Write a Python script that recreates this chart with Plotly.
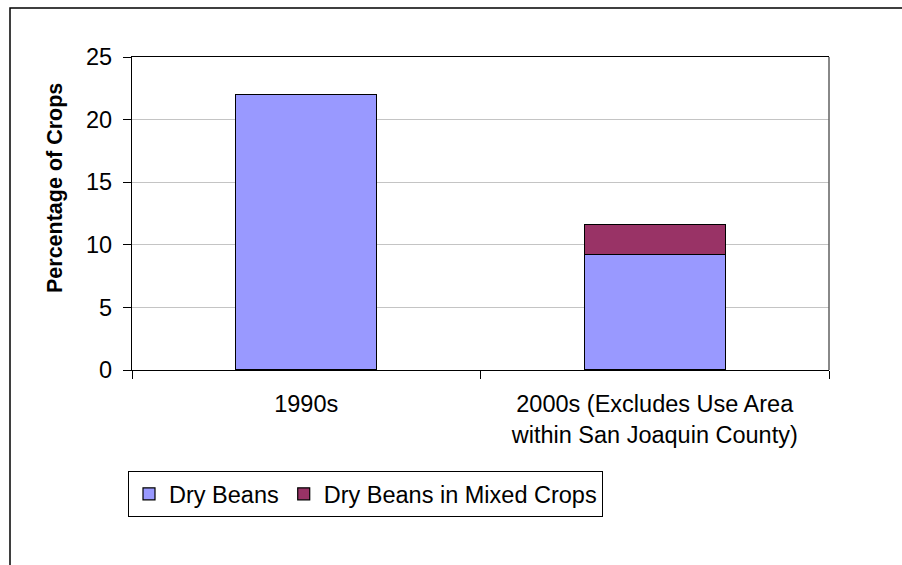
import plotly.graph_objects as go

categories = ["1990s", "2000s (Excludes Use Area<br>within San Joaquin County)"]
dry_beans = [22.0, 9.2]
dry_beans_mixed = [0.0, 2.4]
y_ticks = [0, 5, 10, 15, 20, 25]

FONT = "Liberation Sans, Arial, sans-serif"
FS = 23.5

fig = go.Figure()
fig.add_trace(go.Bar(
    x=categories, y=dry_beans, name="Dry Beans",
    marker=dict(color="#9999FF", line=dict(color="#000000", width=1.2)),
    width=0.405,
))
fig.add_trace(go.Bar(
    x=categories, y=dry_beans_mixed, name="Dry Beans in Mixed Crops",
    marker=dict(color="#993366", line=dict(color="#000000", width=1.2)),
    width=0.405,
))

L, R, T, B = 132, 73, 57, 195
W, H = 902, 565
pw, ph = W - L - R, H - T - B

def px(x):
    return (x - L) / pw

def py(y):
    return (H - B - y) / ph

fig.update_layout(
    barmode="stack",
    width=W, height=H,
    margin=dict(l=L, r=R, t=T, b=B, pad=0),
    paper_bgcolor="white", plot_bgcolor="white",
    font=dict(family=FONT, size=FS, color="#000000"),
    showlegend=True,
    legend=dict(
        orientation="h", x=px(128), y=py(471), xanchor="left", yanchor="top",
        bordercolor="#000000", borderwidth=1, font=dict(size=FS),
        itemwidth=30, traceorder="normal", bgcolor="white",
    ),
    xaxis=dict(
        type="category", showline=True, linecolor="#000000", linewidth=1.2,
        mirror=True, ticks="outside", ticklen=8, tickcolor="#000000",
        tickson="boundaries", showgrid=False, tickfont=dict(size=FS),
        ticklabelstandoff=13, range=[-0.5, 1.5],
    ),
    yaxis=dict(
        range=[0, 25], tickvals=y_ticks, showline=True, linecolor="#000000",
        linewidth=1.2, ticks="outside", ticklen=8, tickcolor="#000000",
        showgrid=True, gridcolor="#C4C4C4", gridwidth=1, zeroline=False,
        tickfont=dict(size=FS), ticklabelstandoff=6,
    ),
    annotations=[
        dict(text="<b>Percentage of Crops</b>", xref="paper", yref="paper",
             x=px(55), y=py(188), xanchor="center", yanchor="middle",
             textangle=-90, showarrow=False, font=dict(size=21.5)),
    ],
    shapes=[
        dict(type="line", xref="paper", yref="paper", x0=1, x1=1, y0=0, y1=1,
             line=dict(color="#606060", width=1.5)),
        dict(type="rect", xref="paper", yref="paper", x0=px(10), x1=px(915),
             y0=py(580), y1=py(8), line=dict(color="#000000", width=1.5),
             fillcolor="rgba(0,0,0,0)", layer="above"),
    ],
)

fig.write_html(
    "out.html",
    config={"displayModeBar": False},
    post_script="document.body.style.margin='0';document.body.style.overflow='hidden';",
)
